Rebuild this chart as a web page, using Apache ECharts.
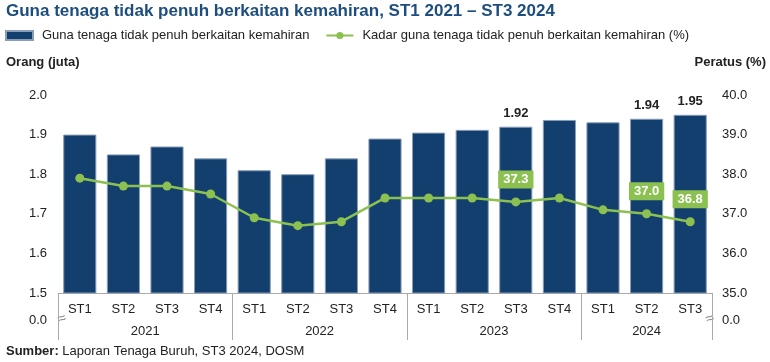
<!DOCTYPE html>
<html>
<head>
<meta charset="utf-8">
<script src="https://cdn.jsdelivr.net/npm/echarts@6/dist/echarts.min.js"></script>
<style>html,body{margin:0;padding:0;background:#fff;}#c{width:770px;height:362px;}</style>
</head>
<body>
<div id="c"></div>
<script>
var quarters = ['ST1','ST2','ST3','ST4','ST1','ST2','ST3','ST4','ST1','ST2','ST3','ST4','ST1','ST2','ST3'];
var years = ['2021','2022','2023','2024'];
var yearCenters = [2, 6, 10, 13.5];
var yearBounds = [0, 4, 8, 12, 15];
var employed = [1.90,1.85,1.87,1.84,1.81,1.80,1.84,1.89,1.905,1.912,1.92,1.937,1.931,1.94,1.95];
var rate = [37.9,37.7,37.7,37.5,36.9,36.7,36.8,37.4,37.4,37.4,37.3,37.4,37.1,37.0,36.8];
var barLabelIdx = [10,13,14];
var lineLabelIdx = [10,13,14];
var leftTicks = {min:1.5, max:2.0, interval:0.1};
var rightTicks = {min:35, max:40, interval:1};
var barName = 'Guna tenaga tidak penuh berkaitan kemahiran';
var lineName = 'Kadar guna tenaga tidak penuh berkaitan kemahiran (%)';

var FONT = '"Liberation Sans", Arial, sans-serif';
var barColor = '#123f6d';
var green = '#8cc152';

var chart = echarts.init(document.getElementById('c'), null, {renderer:'canvas'});

var barData = employed.map(function(v,i){
  return {value:v, label:{show: barLabelIdx.indexOf(i) >= 0}};
});
var lineData = rate.map(function(v,i){
  return {value:v, label:{show: lineLabelIdx.indexOf(i) >= 0}};
});

var option = {
  animation:false,
  textStyle:{fontFamily:FONT},
  title:[
    {text:'Guna tenaga tidak penuh berkaitan kemahiran, ST1 2021 – ST3 2024', left:6, top:3, padding:0,
     textStyle:{fontFamily:FONT, fontSize:17, fontWeight:'bold', color:'#1d4e7f'}},
    {text:'Orang (juta)', left:6, top:56, padding:0, textStyle:{fontFamily:FONT, fontSize:13, fontWeight:'bold', color:'#222'}},
    {text:'Peratus (%)', right:4, top:56, padding:0, textStyle:{fontFamily:FONT, fontSize:13, fontWeight:'bold', color:'#222'}},
    {text:'{b|Sumber:} Laporan Tenaga Buruh, ST3 2024, DOSM', left:6, top:345, padding:0,
     textStyle:{fontFamily:FONT, fontSize:13, fontWeight:'normal', color:'#222',
       rich:{b:{fontFamily:FONT, fontSize:13, fontWeight:'bold', color:'#222'}}}}
  ],
  legend:{
    left:5, top:29, padding:0, itemGap:16, itemWidth:27, itemHeight:9,
    textStyle:{fontFamily:FONT, fontSize:13, color:'#222', padding:[0,0,0,4]},
    data:[{name:barName, icon:'rect'}, {name:lineName}]
  },
  grid:{left:58, right:58, top:95, bottom:69, containLabel:false},
  xAxis:[
    {type:'category', data:quarters, position:'bottom',
     axisLine:{show:true, lineStyle:{color:'#aaaaaa', width:1}},
     axisTick:{show:false},
     axisLabel:{color:'#222', fontSize:13, margin:10, fontFamily:FONT}},
    {type:'value', min:0, max:15, position:'bottom', gridIndex:0,
     axisLine:{show:false},
     splitLine:{show:false},
     axisTick:{show:true, length:47, lineStyle:{color:'#aaaaaa'}, customValues:yearBounds},
     axisLabel:{show:true, color:'#222', fontSize:13, margin:32, fontFamily:FONT, customValues:yearCenters,
       formatter:function(v){ var k = yearCenters.indexOf(v); return k>=0 ? years[k] : ''; }}}
  ],
  yAxis:[
    {type:'value', min:leftTicks.min, max:leftTicks.max, interval:leftTicks.interval, position:'left',
     axisLine:{show:false}, axisTick:{show:false}, splitLine:{show:false},
     axisLabel:{color:'#222', fontSize:13, margin:11, fontFamily:FONT, formatter:function(v){return v.toFixed(1);}}},
    {type:'value', min:rightTicks.min, max:rightTicks.max, interval:rightTicks.interval, position:'right',
     axisLine:{show:false}, axisTick:{show:false}, splitLine:{show:false},
     axisLabel:{color:'#222', fontSize:13, margin:10, fontFamily:FONT, formatter:function(v){return v.toFixed(1);}}}
  ],
  series:[
    {name:barName, type:'bar', xAxisIndex:0, yAxisIndex:0, data:barData, barCategoryGap:'24%',
     itemStyle:{color:barColor, borderColor:'#8a9db7', borderWidth:1},
     label:{position:'top', distance:7, color:'#222', fontSize:13, fontWeight:'bold', fontFamily:FONT,
       formatter:function(p){return p.value.toFixed(2);}}},
    {name:lineName, type:'line', xAxisIndex:0, yAxisIndex:1, data:lineData,
     symbol:'circle', symbolSize:9, lineStyle:{color:green, width:2.5}, itemStyle:{color:green},
     label:{position:'top', distance:9, color:'#fff', fontSize:13, fontWeight:'bold', fontFamily:FONT,
       backgroundColor:green, padding:[3,5,2,5],
       formatter:function(p){return p.value.toFixed(1);}}}
  ],
  graphic:[
    {type:'text', x:47, y:320, style:{text:'0.0', fill:'#222', font:'13px '+FONT, align:'right', verticalAlign:'middle'}},
    {type:'text', x:722, y:320, style:{text:'0.0', fill:'#222', font:'13px '+FONT, align:'left', verticalAlign:'middle'}},
    {type:'text', x:62, y:319, rotation:0.35, style:{text:'≈', fill:'#8c8c8c', font:'15px '+FONT, align:'center', verticalAlign:'middle'}},
    {type:'text', x:710, y:319, rotation:0.35, style:{text:'≈', fill:'#8c8c8c', font:'15px '+FONT, align:'center', verticalAlign:'middle'}}
  ]
};
chart.setOption(option);
</script>
</body>
</html>
